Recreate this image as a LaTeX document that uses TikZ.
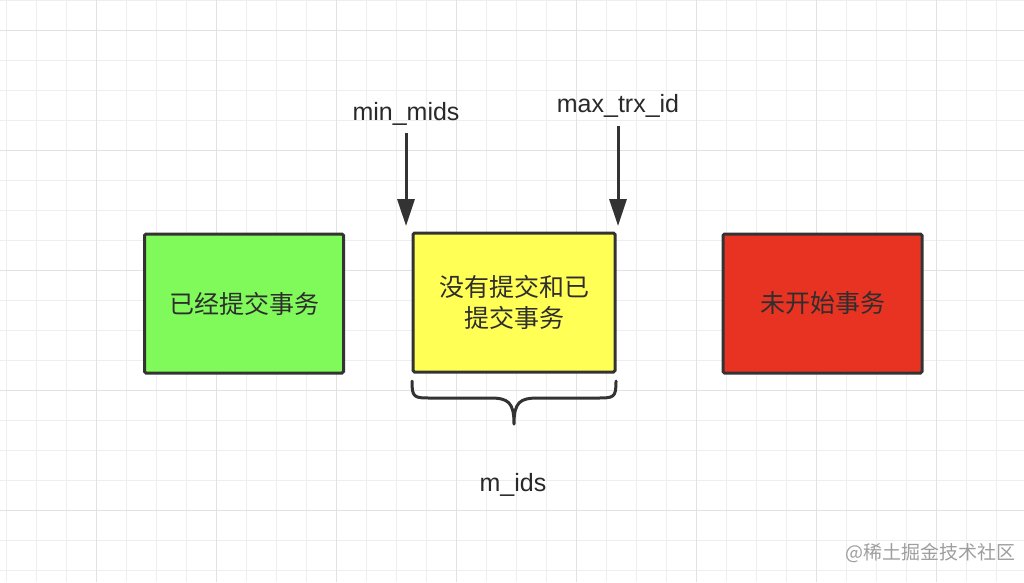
\documentclass[tikz,border=0pt]{standalone}
\usepackage{fontspec}
\setmainfont{Liberation Sans}
\newfontfamily\cjk{Noto Sans CJK SC}
\usetikzlibrary{arrows.meta}
\definecolor{edge}{HTML}{333333}
\definecolor{gfill}{HTML}{80FA5A}
\definecolor{yfill}{HTML}{FFFF55}
\definecolor{rfill}{HTML}{E83323}
\definecolor{gridminor}{HTML}{EEEEEE}
\definecolor{gridmajor}{HTML}{E2E2E2}
\tikzset{
  box/.style={draw=edge, line width=3pt, rounded corners=1.5pt, minimum width=199pt, minimum height=139pt, inner sep=0pt, align=center, font=\cjk\fontsize{25}{31}\selectfont, text=edge!90!black},
  lbl/.style={inner sep=0pt, font=\fontsize{25}{30}\selectfont, text=edge!80!black},
  pointer/.style={draw=edge, line width=3pt, -{Triangle[length=27pt,width=17pt]}},
  bracket/.style={draw=edge, line width=3pt, line cap=round, line join=round},
}
\begin{document}
\begin{tikzpicture}[x=1pt, y=-1pt]
\useasboundingbox (0,0) rectangle (1024,582);
\fill[white] (0,0) rectangle (1024,582);
% grid
\foreach \k in {0,...,33} {
  \pgfmathsetmacro{\gx}{6.7+30*\k}
  \draw[gridminor, line width=1pt] (\gx,0) -- (\gx,582);
}
\foreach \k in {0,...,19} {
  \pgfmathsetmacro{\gy}{0.7+30*\k}
  \draw[gridminor, line width=1pt] (0,\gy) -- (1024,\gy);
}
\foreach \k in {0,...,8} {
  \pgfmathsetmacro{\gx}{96.7+120*\k}
  \draw[gridmajor, line width=1.3pt] (\gx,0) -- (\gx,582);
}
\foreach \k in {0,...,4} {
  \pgfmathsetmacro{\gy}{30.7+120*\k}
  \draw[gridmajor, line width=1.3pt] (0,\gy) -- (1024,\gy);
}
% boxes
\node[box, fill=gfill] (done) at (244,303.5) {已经提交事务};
\node[box, fill=yfill, minimum width=202pt] (active) at (514,302.5) {没有提交和已\\提交事务};
\node[box, fill=rfill] (future) at (822.5,303.5) {未开始事务};
% labels
\node[lbl, anchor=base] (minl) at (406,120) {min\_mids};
\node[lbl, anchor=base] (maxl) at (618,112) {max\_trx\_id};
\node[lbl, anchor=base] (mids) at (513,491) {m\_ids};
% arrows
\coordinate (minstart) at (406,133);
\coordinate (minend) at (406,226);
\coordinate (maxstart) at (618,126);
\coordinate (maxend) at (618,226);
\draw[pointer] (minstart) -- (minend);
\draw[pointer] (maxstart) -- (maxend);
% brace
\coordinate (bl) at (412,381);
\coordinate (br) at (616,381);
\coordinate (btip) at (514,424);
\draw[bracket] (bl) .. controls (412,398) and (414,398) .. (432,398)
  -- (490,398) .. controls (508,398) and (514,402) .. (btip)
  (btip) .. controls (514,402) and (520,398) .. (538,398)
  -- (596,398) .. controls (614,398) and (616,398) .. (br);
% watermark
\node[inner sep=0pt, text=black!38, font=\cjk\fontsize{19}{22}\selectfont] (wm) at (930,553) {@稀土掘金技术社区};
\end{tikzpicture}
\end{document}
